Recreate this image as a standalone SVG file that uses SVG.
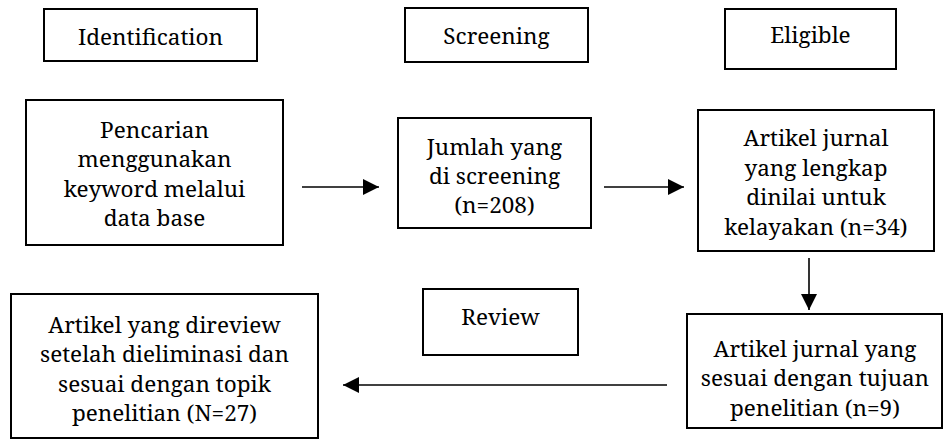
<svg xmlns="http://www.w3.org/2000/svg" width="943" height="439" viewBox="0 0 943 439">
<style>
.box{fill:#fff;stroke:#000;stroke-width:2}
.t{font-family:'Noto Serif','DejaVu Serif',serif;font-size:22.5px;fill:#000;text-anchor:middle}
.c{stroke:#000;stroke-width:1.6;fill:none}
</style>
<defs>
<marker id="ah" viewBox="0 0 10 10" refX="10" refY="5" markerUnits="userSpaceOnUse" markerWidth="16" markerHeight="16" orient="auto">
<path d="M0,0 L10,5 L0,10 Z" fill="#000"/>
</marker>
</defs>
<rect width="943" height="439" fill="#fff"/>
<g id="identification">
<rect class="box" x="44" y="9" width="213" height="52"/>
<text class="t" x="150.5" y="45">Identification</text>
</g>
<g id="screening">
<rect class="box" x="405" y="8" width="183" height="54"/>
<text class="t" x="496.5" y="44">Screening</text>
</g>
<g id="eligible">
<rect class="box" x="725" y="9" width="171" height="60"/>
<text class="t" x="810.5" y="43">Eligible</text>
</g>
<g id="review">
<rect class="box" x="423" y="289" width="155" height="66"/>
<text class="t" x="500.5" y="325">Review</text>
</g>
<g id="pencarian">
<rect class="box" x="26" y="100" width="257" height="145"/>
<text class="t" x="154.5" y="137.5">Pencarian</text>
<text class="t" x="154.5" y="167">menggunakan</text>
<text class="t" x="154.5" y="196.5">keyword melalui</text>
<text class="t" x="154.5" y="226">data base</text>
</g>
<g id="jumlah">
<rect class="box" x="398" y="118" width="193" height="110"/>
<text class="t" x="494.5" y="155">Jumlah yang</text>
<text class="t" x="494.5" y="184">di screening</text>
<text class="t" x="494.5" y="213">(n=208)</text>
</g>
<g id="artikel-lengkap">
<rect class="box" x="698" y="110" width="236" height="141"/>
<text class="t" x="816" y="146">Artikel jurnal</text>
<text class="t" x="816" y="175.5">yang lengkap</text>
<text class="t" x="816" y="205">dinilai untuk</text>
<text class="t" x="816" y="234.5">kelayakan (n=34)</text>
</g>
<g id="artikel-sesuai">
<rect class="box" x="687" y="314" width="255" height="114"/>
<text class="t" x="815" y="356.5">Artikel jurnal yang</text>
<text class="t" x="815" y="386">sesuai dengan tujuan</text>
<text class="t" x="815" y="415.5">penelitian (n=9)</text>
</g>
<g id="artikel-direview">
<rect class="box" x="11" y="294" width="307" height="144"/>
<text class="t" x="164.5" y="332.5">Artikel yang direview</text>
<text class="t" x="164.5" y="362">setelah dieliminasi dan</text>
<text class="t" x="164.5" y="391.5">sesuai dengan topik</text>
<text class="t" x="164.5" y="421">penelitian (N=27)</text>
</g>
<g id="connectors">
<line class="c" x1="302" y1="187" x2="379" y2="187" marker-end="url(#ah)"/>
<line class="c" x1="604" y1="187" x2="684" y2="187" marker-end="url(#ah)"/>
<line class="c" x1="809" y1="258" x2="809" y2="310" marker-end="url(#ah)"/>
<line class="c" x1="667" y1="385" x2="343" y2="385" marker-end="url(#ah)"/>
</g>
</svg>
